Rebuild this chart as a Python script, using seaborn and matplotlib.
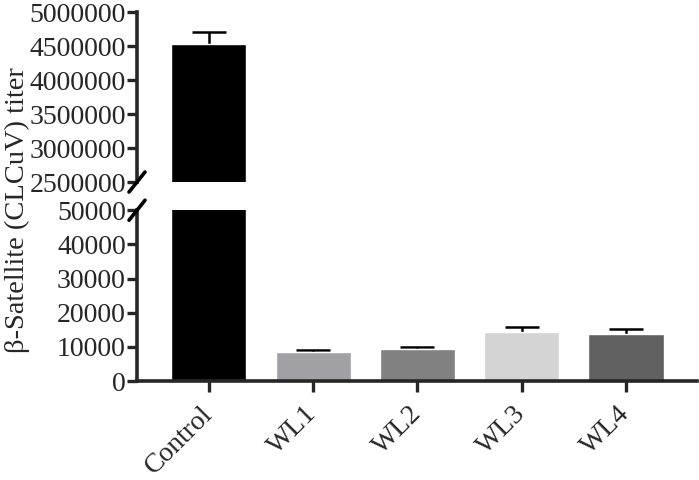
import matplotlib
matplotlib.use("Agg")
import matplotlib.pyplot as plt
import matplotlib.lines as mlines
import seaborn as sns
import numpy as np
import pandas as pd

categories = ["Control", "WL1", "WL2", "WL3", "WL4"]
means = [4530000, 8400, 9350, 14400, 13850]
errors = [175000, 700, 700, 1400, 1300]
colors = ["#000000", "#a1a1a5", "#818181", "#d4d4d4", "#616161"]
top_ticks = [2500000, 3000000, 3500000, 4000000, 4500000, 5000000]
bottom_ticks = [0, 10000, 20000, 30000, 40000, 50000]

sns.set_style("ticks")
plt.rcParams["font.family"] = ["Liberation Serif", "DejaVu Serif"]

df = pd.DataFrame({"group": categories, "value": means})

fig = plt.figure(figsize=(6.99, 4.80), dpi=100)
left, width = 0.196, 0.801
ax_top = fig.add_axes([left, 0.6208, width, 0.354])
ax_bot = fig.add_axes([left, 0.206, width, 0.356])

FS = 20
for ax in (ax_top, ax_bot):
    sns.barplot(data=df, x="group", y="value", hue="group", palette=colors,
                saturation=1, width=0.72, errorbar=None, legend=False, ax=ax,
                zorder=2)
    xs = np.arange(len(categories))
    ax.errorbar(xs, means, yerr=errors, fmt="none", ecolor="black",
                elinewidth=1.8, capsize=12, capthick=1.8, zorder=1)
    ax.set_xlim(-0.69, 4.68)
    ax.set_xlabel("")
    ax.set_ylabel("")
    for s in ("top", "right"):
        ax.spines[s].set_visible(False)
    ax.spines["left"].set_linewidth(2.6)
    ax.spines["bottom"].set_linewidth(2.6)
    ax.tick_params(axis="y", direction="out", length=7, width=2.4,
                   labelsize=FS, pad=1)
    ax.tick_params(axis="x", direction="out", length=8, width=2.4,
                   labelsize=FS, pad=13)
    ax.ticklabel_format(axis="y", style="plain", useOffset=False)

ax_top.set_ylim(2500000, 5000000)
ax_top.set_yticks(top_ticks)
ax_top.set_yticklabels([str(t) for t in top_ticks])
ax_top.spines["bottom"].set_visible(False)
ax_top.tick_params(axis="x", which="both", bottom=False, labelbottom=False)

ax_bot.set_ylim(0, 50000)
ax_bot.set_yticks(bottom_ticks)
ax_bot.set_yticklabels([str(t) for t in bottom_ticks])
ax_bot.set_xticks(range(len(categories)))
ax_bot.set_xticklabels(categories, rotation=45, ha="right", va="center",
                       rotation_mode="anchor")


def slash(ax, y):
    fig.canvas.draw()
    p0 = ax.transAxes.transform((0, y))
    inv = fig.transFigure.inverted()
    a = inv.transform((p0[0] - 8, p0[1] - 10))
    b = inv.transform((p0[0] + 8, p0[1] + 10))
    fig.add_artist(mlines.Line2D([a[0], b[0]], [a[1], b[1]],
                                 color="black", lw=2.6))


slash(ax_top, 0)
slash(ax_bot, 1)

fig.text(0.025, 0.5625, "β-Satellite (CLCuV) titer", rotation=90,
         ha="center", va="center", fontsize=20.5)

fig.savefig("out.png", dpi=100)
